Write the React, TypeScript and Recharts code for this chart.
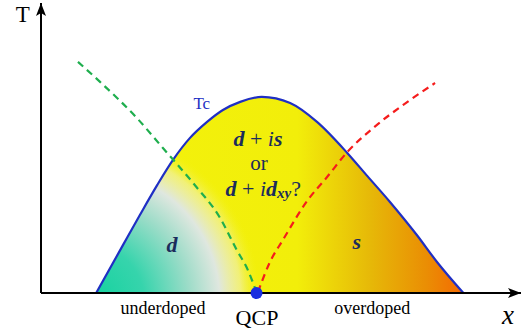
import React from 'react'
import {
  ComposedChart,
  Area,
  Line,
  XAxis,
  YAxis,
  ReferenceDot,
  ReferenceLine,
} from 'recharts'

// superconducting dome Tc(x), arbitrary units
const domeX = [11.5, 17.1, 20.6, 24.2, 27.5, 31.0, 34.6, 37.9, 41.5, 46.0, 51.9, 57.5, 63.8, 68.0, 72.7, 78.3, 82.5, 88.0]
const domeT = [0, 16.6, 26.9, 37.2, 45.9, 53.4, 59.0, 63.1, 65.9, 67.6, 65.5, 59.0, 48.3, 40.3, 31.4, 20.0, 10.7, 0]

// green dashed crossover (d-wave side)
const greenX = [7.7, 12.3, 20.0, 25.4, 31.7, 37.3, 40.8, 43.1, 44.8]
const greenT = [79.7, 72.8, 60.3, 50.0, 37.9, 25.9, 14.8, 7.9, 0.7]

// red dashed crossover (s-wave side)
const redX = [45.2, 47.7, 50.4, 55.6, 59.6, 63.8, 69.2, 75.4, 82.1]
const redT = [0.3, 10.7, 18.3, 32.1, 40.0, 48.6, 56.9, 64.8, 72.4]

const qcpX = 44.9

const domeData = domeX.map((x, i) => ({ x, t: domeT[i] }))
const greenData = greenX.map((x, i) => ({ x, t: greenT[i] }))
const redData = redX.map((x, i) => ({ x, t: redT[i] }))

const SERIF = '"Liberation Serif", "DejaVu Serif", serif'
const NAVY = '#1b2c5c'

const textShape = (content: React.ReactNode, size: number, color = '#000', extra: any = {}) =>
  (props: any) => (
    <text
      x={props.cx}
      y={props.cy}
      textAnchor="middle"
      dominantBaseline="central"
      fontSize={size}
      fill={color}
      style={{ fontFamily: SERIF, ...extra }}
    >
      {content}
    </text>
  )

const BI = { fontStyle: 'italic', fontWeight: 'bold' }

const upArrow = (props: any) => {
  const { cx, cy } = props
  return <path d={`M${cx},${cy} L${cx - 5},${cy + 13} L${cx},${cy + 10} L${cx + 5},${cy + 13} Z`} fill="#000" />
}

const rightArrow = (props: any) => {
  const { cx, cy } = props
  return <path d={`M${cx},${cy} L${cx - 13},${cy - 5} L${cx - 10},${cy} L${cx - 13},${cy + 5} Z`} fill="#000" />
}

export default function App() {
  return (
    <div style={{ position: 'absolute', left: 0, top: 0, background: '#fff' }}>
      <ComposedChart
        width={524}
        height={331}
        data={domeData}
        margin={{ top: 3, right: 3, bottom: 38, left: 41 }}
      >
        <defs>
          <linearGradient id="domeBase" gradientUnits="userSpaceOnUse" x1={95} y1={0} x2={463} y2={0}>
            <stop offset="0" stopColor="#f3f30c" />
            <stop offset="0.55" stopColor="#f2ee0a" />
            <stop offset="0.75" stopColor="#e6b808" />
            <stop offset="0.9" stopColor="#ea8e04" />
            <stop offset="1" stopColor="#f46a02" />
          </linearGradient>
          <radialGradient id="domeD" gradientUnits="userSpaceOnUse" cx={90} cy={300} r={180}>
            <stop offset="0" stopColor="#12d29e" stopOpacity={1} />
            <stop offset="0.3" stopColor="#36d4ac" stopOpacity={1} />
            <stop offset="0.55" stopColor="#9cdcc8" stopOpacity={1} />
            <stop offset="0.72" stopColor="#dfe7df" stopOpacity={1} />
            <stop offset="0.84" stopColor="#f0f0c0" stopOpacity={0.6} />
            <stop offset="0.95" stopColor="#f3f30c" stopOpacity={0} />
          </radialGradient>
        </defs>
        <XAxis type="number" dataKey="x" domain={[0, 100]} hide />
        <YAxis type="number" domain={[0, 100]} hide />
        <Area
          type="monotone"
          dataKey="t"
          stroke="none"
          fill="url(#domeBase)"
          fillOpacity={1}
          isAnimationActive={false}
        />
        <Area
          type="monotone"
          dataKey="t"
          stroke="#1f2fc4"
          strokeWidth={2.2}
          fill="url(#domeD)"
          fillOpacity={1}
          isAnimationActive={false}
        />
        <Line
          data={greenData}
          dataKey="t"
          type="monotone"
          stroke="#1fae4e"
          strokeWidth={2.2}
          strokeDasharray="7 5"
          dot={false}
          isAnimationActive={false}
        />
        <Line
          data={redData}
          dataKey="t"
          type="monotone"
          stroke="#f51c1c"
          strokeWidth={2.2}
          strokeDasharray="7 5"
          dot={false}
          isAnimationActive={false}
        />
        <ReferenceLine y={0} stroke="#000" strokeWidth={2} ifOverflow="visible" />
        <ReferenceLine x={0} stroke="#000" strokeWidth={2} ifOverflow="visible" />
        <ReferenceDot x={qcpX} y={0} r={6} fill="#1a2ee0" stroke="none" ifOverflow="visible" />
        <ReferenceDot x={0} y={100} ifOverflow="visible" shape={upArrow} />
        <ReferenceDot x={100} y={0} ifOverflow="visible" shape={rightArrow} />

        <ReferenceDot x={-3.8} y={95.9} ifOverflow="visible" shape={textShape('T', 23)} />
        <ReferenceDot x={97.3} y={-7.6} ifOverflow="visible" shape={textShape('x', 27, '#000', { fontStyle: 'italic' })} />
        <ReferenceDot x={25.4} y={-5.2} ifOverflow="visible" shape={textShape('underdoped', 18)} />
        <ReferenceDot x={45} y={-8.6} ifOverflow="visible" shape={textShape('QCP', 22)} />
        <ReferenceDot x={69} y={-5.2} ifOverflow="visible" shape={textShape('overdoped', 18)} />
        <ReferenceDot x={33.5} y={65.5} ifOverflow="visible" shape={textShape('Tc', 17, '#1f2fc4')} />
        <ReferenceDot x={27.3} y={16.6} ifOverflow="visible" shape={textShape('d', 22, NAVY, BI)} />
        <ReferenceDot x={65.8} y={17.6} ifOverflow="visible" shape={textShape('s', 22, NAVY, BI)} />
        <ReferenceDot
          x={45.2}
          y={53.4}
          ifOverflow="visible"
          shape={textShape(
            <>
              <tspan style={BI}>d</tspan>
              <tspan> + </tspan>
              <tspan style={{ fontStyle: 'italic' }}>i</tspan>
              <tspan style={BI}>s</tspan>
            </>,
            22,
            NAVY
          )}
        />
        <ReferenceDot x={45.4} y={44.8} ifOverflow="visible" shape={textShape('or', 21, NAVY)} />
        <ReferenceDot
          x={46.3}
          y={36.2}
          ifOverflow="visible"
          shape={textShape(
            <>
              <tspan style={BI}>d</tspan>
              <tspan> + </tspan>
              <tspan style={{ fontStyle: 'italic' }}>i</tspan>
              <tspan style={BI}>d</tspan>
              <tspan style={{ ...BI, fontSize: 15 }} dy={5}>xy</tspan>
              <tspan dy={-5}>?</tspan>
            </>,
            22,
            NAVY
          )}
        />
      </ComposedChart>
    </div>
  )
}
